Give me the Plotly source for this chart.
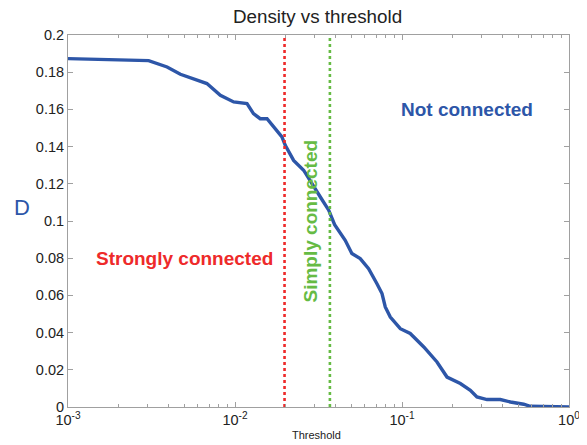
import plotly.graph_objects as go

# Data
threshold = [0.001, 0.00304, 0.00392, 0.00471, 0.00679, 0.00817, 0.00982, 0.0118, 0.0129,
             0.01416, 0.01555, 0.01743, 0.0191, 0.0200, 0.02244, 0.02576, 0.02958, 0.03243,
             0.0364, 0.0395, 0.0457, 0.0501, 0.0562, 0.0631, 0.0708, 0.0759, 0.0794, 0.0851,
             0.0977, 0.112, 0.135, 0.162, 0.186, 0.2235, 0.2566, 0.281, 0.323, 0.388, 0.446,
             0.535, 0.586, 1.0]
density = [0.1873, 0.1862, 0.1828, 0.1789, 0.1739, 0.1676, 0.1640, 0.1631, 0.1577,
           0.1550, 0.1550, 0.1497, 0.1452, 0.1407, 0.1326, 0.1273, 0.1183, 0.1129,
           0.1058, 0.0980, 0.0896, 0.0825, 0.0798, 0.0744, 0.0663, 0.0610, 0.0538, 0.0484,
           0.0421, 0.0395, 0.0323, 0.0242, 0.0161, 0.0126, 0.0090, 0.0054, 0.0040, 0.0040, 0.0027,
           0.0015, 0.0004, 0.0]
strong_thr = 0.0198
simple_thr = 0.037
y_range = [0, 0.2]
x_major = [0.001, 0.01, 0.1, 1]
x_major_text = ["10<sup>-3</sup>", "10<sup>-2</sup>", "10<sup>-1</sup>", "10<sup>0</sup>"]
x_minor = [m * d for d in [0.001, 0.01, 0.1] for m in range(2, 10)]
y_ticks = [0, 0.02, 0.04, 0.06, 0.08, 0.1, 0.12, 0.14, 0.16, 0.18, 0.2]
y_tick_text = ["0", "0.02", "0.04", "0.06", "0.08", "0.1", "0.12", "0.14", "0.16", "0.18", "0.2"]

FONT = "Arial, Liberation Sans, sans-serif"
BLUE = "#2d56a8"
RED = "#ee2a2a"
GREEN = "#66bb44"

fig = go.Figure()
fig.add_trace(go.Scatter(x=threshold, y=density, mode="lines",
                         line=dict(color=BLUE, width=3.4), showlegend=False))
for thr, col in [(strong_thr, RED), (simple_thr, GREEN)]:
    fig.add_trace(go.Scatter(x=[thr, thr], y=y_range, mode="lines",
                             line=dict(color=col, width=2.6, dash="dot"), showlegend=False))

axis_common = dict(showgrid=False, zeroline=False, showline=True, linecolor="#a0a0a0",
                   linewidth=1, mirror="ticks", ticks="inside", tickcolor="#a0a0a0",
                   ticklen=5, automargin=False,
                   tickfont=dict(family=FONT, size=14.5, color="#222"))
fig.update_xaxes(type="log", range=[-3, 0], tickmode="array", tickvals=x_major,
                 ticktext=x_major_text,
                 minor=dict(tickmode="array", tickvals=x_minor, ticks="inside",
                            ticklen=3, tickcolor="#a0a0a0"),
                 **axis_common)
fig.update_yaxes(range=y_range, tickmode="array", tickvals=y_ticks, ticktext=y_tick_text,
                 **axis_common)


def label(text, x, y, size, color, angle=0):
    return dict(text=text, x=x, y=y, xref="paper", yref="paper", showarrow=False,
                xanchor="center", yanchor="middle", textangle=angle,
                font=dict(family=FONT, size=size, color=color))


fig.update_layout(
    width=587, height=445,
    margin=dict(l=60, r=26, t=27, b=46),
    paper_bgcolor="white", plot_bgcolor="white",
    showlegend=False,
    annotations=[
        label("Density vs threshold", 0.498, 1.050, 18.8, "#222"),
        label("<b>Strongly connected</b>", 0.232, 0.400, 19, RED),
        label("<b>Simply connected</b>", 0.484, 0.500, 19, GREEN, -90),
        label("<b>Not connected</b>", 0.797, 0.800, 19, BLUE),
        label("D", -0.091, 0.537, 22, BLUE),
        label("Threshold", 0.497, -0.076, 11, "#222"),
    ],
)
fig.write_html("out.html")
